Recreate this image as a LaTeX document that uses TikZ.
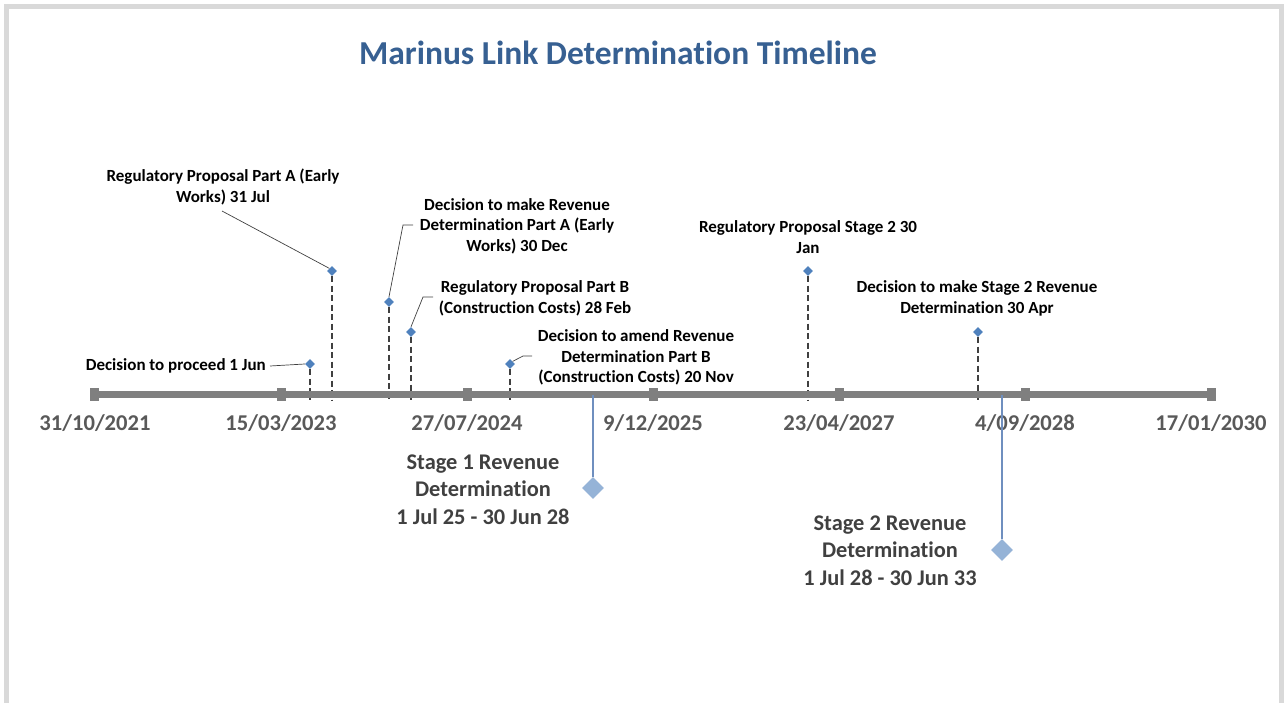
\documentclass[tikz,border=0pt]{standalone}
\usepackage{fontspec}
\setmainfont{Carlito}[Ligatures=NoCommon]
\usetikzlibrary{shapes.geometric}
\definecolor{framegray}{HTML}{D9D9D9}
\definecolor{titleblue}{HTML}{376092}
\definecolor{evblue}{HTML}{4F81BD}
\definecolor{stblue}{HTML}{95B3D7}
\definecolor{stline}{HTML}{6F8FBF}
\definecolor{axgray}{HTML}{7F7F7F}
\definecolor{axtext}{HTML}{595959}
\definecolor{sttext}{HTML}{404040}
\definecolor{dashgray}{HTML}{404040}
\begin{document}
\begin{tikzpicture}[x=1pt,y=-1pt,
  evt/.style={diamond, fill=evblue, inner sep=0pt, minimum size=10pt},
  bigd/.style={diamond, fill=stblue, inner sep=0pt, minimum size=22pt},
  lbl/.style={font=\bfseries\fontsize{17}{20.5}\selectfont, align=center, inner sep=0pt},
  axlbl/.style={font=\bfseries\fontsize{22.6}{22.6}\selectfont, text=axtext, inner sep=0pt},
  stlbl/.style={font=\bfseries\fontsize{22.4}{27.5}\selectfont, text=sttext, align=center, inner sep=0pt},
  tickbox/.style={rectangle, fill=axgray, inner sep=0pt, minimum width=9pt, minimum height=13pt},
  dline/.style={draw=dashgray, line width=1.3pt, dash pattern=on 6pt off 3.5pt},
  leader/.style={draw=dashgray, line width=0.7pt},
  stem/.style={draw=stline, line width=1.2pt}
]
\useasboundingbox (0,0) rectangle (1284,703);
\draw[framegray, line width=5pt] (6.5,703) -- (6.5,6.5) -- (1281.5,6.5) -- (1281.5,703);

% title
\node[font=\bfseries\fontsize{33.5}{33.5}\selectfont, text=titleblue] (title) at (618,53) {Marinus Link Determination Timeline};

% axis coordinates
\coordinate (axL) at (94,394.5);
\coordinate (axR) at (1211,394.5);

% event diamonds
\node[evt] (e1) at (310,364) {};
\node[evt] (e2) at (332,271) {};
\node[evt] (e3) at (389,302) {};
\node[evt] (e4) at (411,332) {};
\node[evt] (e5) at (510,364) {};
\node[evt] (e6) at (808,271) {};
\node[evt] (e7) at (978,332) {};

% dashed drop lines
\foreach \e in {e1,e2,e3,e4,e5,e6,e7}{
  \draw[dline] (\e.south) -- (\e |- 0,400);
}

% axis
\draw[axgray, line width=7pt] (axL) -- (axR);
\node[tickbox] (t1) at (94,394.5) {};
\node[tickbox] (t2) at (281,394.5) {};
\node[tickbox] (t3) at (467,394.5) {};
\node[tickbox] (t4) at (653,394.5) {};
\node[tickbox] (t5) at (839,394.5) {};
\node[tickbox] (t6) at (1025,394.5) {};
\node[tickbox] (t7) at (1211,394.5) {};

% axis labels
\node[axlbl] (a1) at (95,423) {31/10/2021};
\node[axlbl] (a2) at (281,423) {15/03/2023};
\node[axlbl] (a3) at (467,423) {27/07/2024};
\node[axlbl] (a4) at (653,423) {9/12/2025};
\node[axlbl] (a5) at (839,423) {23/04/2027};
\node[axlbl] (a6) at (1025,423) {4/09/2028};
\node[axlbl] (a7) at (1211,423) {17/01/2030};

% event labels
\node[lbl, anchor=east] (l1) at (266,366) {Decision to proceed 1 Jun};
\node[lbl] (l2) at (223,187) {Regulatory Proposal Part A (Early\\Works) 31 Jul};
\node[lbl] (l3) at (517,226) {Decision to make Revenue\\Determination Part A (Early\\Works) 30 Dec};
\node[lbl] (l4) at (535,298.5) {Regulatory Proposal Part B\\(Construction Costs) 28 Feb};
\node[lbl] (l5) at (636,357.5) {Decision to amend Revenue\\Determination Part B\\(Construction Costs) 20 Nov};
\node[lbl] (l6) at (808,237) {Regulatory Proposal Stage 2 30\\Jan};
\node[lbl] (l7) at (977,298.5) {Decision to make Stage 2 Revenue\\Determination 30 Apr};

% leader lines
\coordinate (c1) at (270,366);
\draw[leader] (c1) -- (e1.west);
\coordinate (c2) at (222,211);
\draw[leader] (c2) -- (e2.north west);
\coordinate (c3a) at (403,225);
\coordinate (c3b) at (413,225);
\draw[leader] (e3.north) -- (c3a) -- (c3b);
\coordinate (c4a) at (423,297);
\coordinate (c4b) at (433,297);
\draw[leader] (e4.north) -- (c4a) -- (c4b);
\coordinate (c5a) at (523,356);
\coordinate (c5b) at (532,356);
\draw[leader] (e5.north east) -- (c5a) -- (c5b);

% stage diamonds
\node[bigd] (s1) at (593,488) {};
\node[bigd] (s2) at (1002,550) {};
\coordinate (s1top) at (593,395);
\coordinate (s2top) at (1002,395);
\draw[stem] (s1top) -- (s1.north);
\draw[stem] (s2top) -- (s2.north);
\node[stlbl] (sl1) at (483,489.5) {Stage 1 Revenue\\Determination\\1 Jul 25 - 30 Jun 28};
\node[stlbl] (sl2) at (890,550.5) {Stage 2 Revenue\\Determination\\1 Jul 28 - 30 Jun 33};
\end{tikzpicture}
\end{document}
